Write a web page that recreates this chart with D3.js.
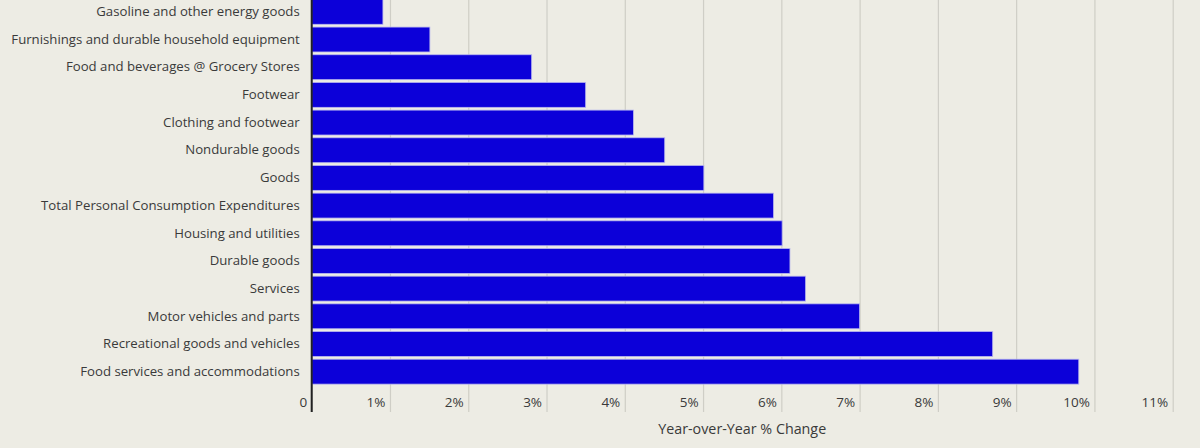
<!DOCTYPE html>
<html>
<head>
<meta charset="utf-8">
<script src="https://cdn.jsdelivr.net/npm/d3@7"></script>
<style>
  body { margin: 0; background: #edece4; }
  svg text { font-family: "Open Sans", sans-serif; }
</style>
</head>
<body>
<div id="plot"><svg width="1200" height="448"></svg></div>
<script>
// categories, top to bottom
const categories = [
  "Gasoline and other energy goods",
  "Furnishings and durable household equipment",
  "Food and beverages @ Grocery Stores",
  "Footwear",
  "Clothing and footwear",
  "Nondurable goods",
  "Goods",
  "Total Personal Consumption Expenditures",
  "Housing and utilities",
  "Durable goods",
  "Services",
  "Motor vehicles and parts",
  "Recreational goods and vehicles",
  "Food services and accommodations"
];
// year-over-year % change
const values = [0.91, 1.51, 2.81, 3.5, 4.11, 4.51, 5.01, 5.9, 6.01, 6.11, 6.31, 7.0, 8.7, 9.8];
const xTicks = [0, 1, 2, 3, 4, 5, 6, 7, 8, 9, 10, 11];
const xTitle = "Year-over-Year % Change";

const svg = d3.select("div#plot svg");
const x0 = 311.7, x1 = 1172.7;
const axisY = 412;

const x = d3.scaleLinear().domain([0, 11]).range([x0, x1]);
const y = d3.scaleBand().domain(categories).range([-2, 385.5]).paddingInner(0.1).paddingOuter(0.05);

// gridlines + tick labels
const xAxis = svg.append("g")
  .attr("transform", `translate(0,${axisY})`)
  .call(d3.axisBottom(x).tickValues(xTicks).tickSize(-axisY)
    .tickFormat(d => d === 0 ? "0" : d + "%"));
xAxis.attr("font-family", null);
xAxis.select(".domain").remove();
xAxis.selectAll(".tick line").attr("stroke", "#cfcec6").attr("stroke-width", 1.2);
xAxis.selectAll(".tick text")
  .attr("x", -5).attr("y", -5).attr("dy", 0)
  .attr("text-anchor", "end")
  .attr("fill", "#3a3a3a").style("font-size", "13.5px");

// bars
svg.selectAll(".bar")
  .data(categories)
  .enter()
  .append("rect")
  .attr("class", "bar")
  .attr("x", x(0))
  .attr("y", d => y(d))
  .attr("width", (d, i) => x(values[i]) - x(0))
  .attr("height", y.bandwidth())
  .attr("fill", "#0c00d9")
  .attr("stroke", "#b8b6ee")
  .attr("stroke-width", 0.8);

// y labels
svg.append("g")
  .attr("transform", `translate(${x0},0)`)
  .call(d3.axisLeft(y).tickSize(0).tickPadding(12))
  .call(g => g.attr("font-family", null).select(".domain").remove())
  .selectAll("text")
  .attr("fill", "#3a3a3a").style("font-size", "13.2px");

// baseline
svg.append("line")
  .attr("x1", x0).attr("x2", x0)
  .attr("y1", 0).attr("y2", axisY)
  .attr("stroke", "#222").attr("stroke-width", 2);

svg.append("text")
  .attr("x", (x0 + x1) / 2).attr("y", 434)
  .attr("text-anchor", "middle")
  .attr("fill", "#3a3a3a").style("font-size", "14.3px")
  .text(xTitle);
</script>
</body>
</html>
